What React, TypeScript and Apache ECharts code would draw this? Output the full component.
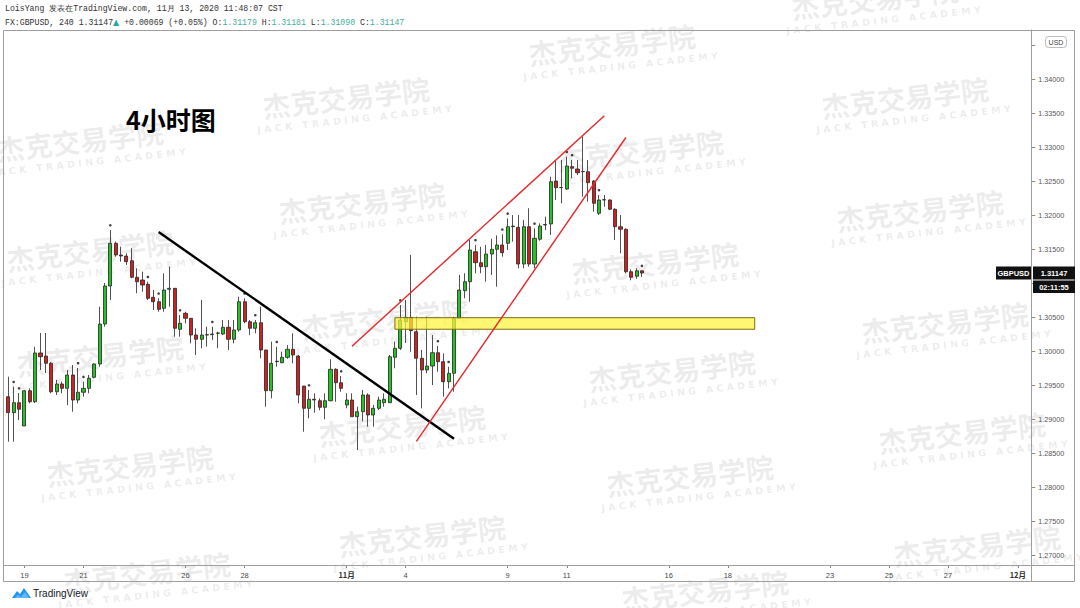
import React, { useEffect, useRef } from 'react';
import * as echarts from 'echarts';

// ---- data (4H GBPUSD candles, index 0 = Fri Oct 16 16:00 CST) ----
const opens = [
  1.29328, 1.29093, 1.2924, 1.28897, 1.29416, 1.29254, 1.29971, 1.29926, 1.29819, 1.29401,
  1.29515, 1.29451, 1.29647, 1.29279, 1.29393, 1.29451, 1.29613, 1.29809, 1.30397, 1.30956,
  1.31584, 1.31412, 1.31397, 1.31328, 1.31084, 1.31044, 1.30981, 1.3079, 1.30725, 1.30628,
  1.30907, 1.30922, 1.30319, 1.30554, 1.30481, 1.30235, 1.30172, 1.30235, 1.3024, 1.3026,
  1.3025, 1.30349, 1.30172, 1.30309, 1.30725, 1.30431, 1.30334, 1.30416, 1.30015, 1.29416,
  1.29843, 1.29828, 1.29907, 1.30025, 1.29926, 1.29485, 1.29157, 1.2929, 1.29269, 1.29172,
  1.29269, 1.29731, 1.29534, 1.29206, 1.29279, 1.29034, 1.29107, 1.29353, 1.29059, 1.29157,
  1.2924, 1.2924, 1.29907, 1.3004, 1.30431, 1.30495, 1.30284, 1.29893, 1.29721, 1.29779,
  1.29975, 1.29843, 1.29549, 1.29672, 1.30481, 1.30887, 1.31019, 1.3146, 1.31299, 1.3124,
  1.31426, 1.31495, 1.31559, 1.31584, 1.31828, 1.31819, 1.31279, 1.31828, 1.31279, 1.31643,
  1.31853, 1.31868, 1.325, 1.32402, 1.32382, 1.32711, 1.32676, 1.32637, 1.32637, 1.325,
  1.32025, 1.32221, 1.32221, 1.32084, 1.31828, 1.3179, 1.31166, 1.311, 1.31179,
];
const closes = [
  1.29093, 1.2924, 1.29143, 1.29416, 1.29254, 1.29971, 1.29916, 1.29819, 1.29401, 1.29515,
  1.29451, 1.29647, 1.29279, 1.29393, 1.29451, 1.29599, 1.29809, 1.30397, 1.30956, 1.31584,
  1.31412, 1.31397, 1.31313, 1.31084, 1.31019, 1.30971, 1.30775, 1.30725, 1.30613, 1.30897,
  1.30922, 1.30334, 1.30407, 1.30481, 1.30235, 1.30172, 1.30235, 1.3024, 1.3025, 1.30265,
  1.30349, 1.30172, 1.30309, 1.30725, 1.30431, 1.30334, 1.30416, 1.30015, 1.29416, 1.29819,
  1.2985, 1.29907, 1.30025, 1.29941, 1.29353, 1.29157, 1.2929, 1.2928, 1.29172, 1.29269,
  1.29731, 1.29534, 1.29451, 1.29279, 1.29034, 1.29107, 1.29353, 1.29059, 1.29157, 1.29279,
  1.2929, 1.29916, 1.3004, 1.30456, 1.30495, 1.30299, 1.29893, 1.29721, 1.29779, 1.29975,
  1.29843, 1.29549, 1.29672, 1.30481, 1.30897, 1.31019, 1.31485, 1.31299, 1.3124, 1.31426,
  1.31495, 1.31559, 1.31446, 1.31828, 1.31838, 1.31279, 1.31828, 1.31279, 1.31657, 1.31838,
  1.3186, 1.3249, 1.32402, 1.32405, 1.32721, 1.32687, 1.32622, 1.3264, 1.32475, 1.32172,
  1.32221, 1.32225, 1.32084, 1.31828, 1.3179, 1.31166, 1.31084, 1.31179, 1.31147,
];
const lows = [
  1.28666, 1.28666, 1.28985, 1.28897, 1.29231, 1.29235, 1.29721, 1.29676, 1.29378, 1.29353,
  1.29378, 1.29206, 1.29107, 1.29231, 1.29328, 1.29378, 1.29599, 1.29769, 1.30357, 1.3075,
  1.31387, 1.31313, 1.31265, 1.31069, 1.30849, 1.30872, 1.3075, 1.30603, 1.30578, 1.30578,
  1.30651, 1.3021, 1.3021, 1.30407, 1.30113, 1.29941, 1.3004, 1.30063, 1.30162, 1.3004,
  1.30235, 1.30015, 1.30113, 1.30284, 1.30407, 1.30235, 1.3026, 1.29893, 1.29181, 1.29304,
  1.29769, 1.29819, 1.29885, 1.29819, 1.29231, 1.28813, 1.2901, 1.29093, 1.29128, 1.28996,
  1.2926, 1.29254, 1.29401, 1.29157, 1.29034, 1.28544, 1.28966, 1.28887, 1.28887, 1.29132,
  1.29181, 1.29235, 1.29746, 1.30015, 1.30118, 1.2999, 1.29353, 1.29157, 1.29672, 1.295,
  1.29696, 1.29328, 1.29451, 1.29401, 1.30481, 1.30775, 1.30725, 1.31143, 1.31143, 1.31019,
  1.31118, 1.30946, 1.31387, 1.31485, 1.31607, 1.31216, 1.31216, 1.3124, 1.31216, 1.3162,
  1.31779, 1.31706, 1.32221, 1.32172, 1.32368, 1.3254, 1.32588, 1.32269, 1.32196, 1.32049,
  1.32, 1.32122, 1.32074, 1.31632, 1.31437, 1.31143, 1.3104, 1.3106, 1.3109,
];
const highs = [
  1.29622, 1.29475, 1.29382, 1.29426, 1.29451, 1.30063, 1.30265, 1.30265, 1.29838, 1.29574,
  1.29549, 1.29721, 1.29794, 1.2975, 1.29549, 1.29647, 1.29819, 1.30651, 1.31, 1.31779,
  1.31608, 1.31534, 1.31437, 1.3151, 1.31216, 1.31166, 1.31019, 1.30897, 1.30775, 1.31143,
  1.3124, 1.30926, 1.30529, 1.30578, 1.30481, 1.30334, 1.3075, 1.30357, 1.30357, 1.30284,
  1.30456, 1.30456, 1.30456, 1.30799, 1.30775, 1.30456, 1.30456, 1.30651, 1.30015, 1.30137,
  1.30063, 1.2999, 1.30088, 1.3026, 1.29941, 1.29485, 1.29426, 1.29378, 1.29304, 1.29378,
  1.29878, 1.29746, 1.29632, 1.29378, 1.29378, 1.29181, 1.29426, 1.29378, 1.29206, 1.29328,
  1.29378, 1.29941, 1.30137, 1.30676, 1.3075, 1.31412, 1.30505, 1.30015, 1.30505, 1.30235,
  1.30074, 1.29966, 1.29769, 1.30505, 1.31118, 1.31143, 1.31632, 1.31559, 1.31534, 1.31559,
  1.3165, 1.317, 1.31716, 1.31951, 1.32, 1.32, 1.31926, 1.32099, 1.31804, 1.31877,
  1.31975, 1.32564, 1.32809, 1.32809, 1.32857, 1.32809, 1.32809, 1.33151, 1.32809, 1.32515,
  1.32294, 1.32294, 1.3223, 1.32099, 1.32, 1.31804, 1.312, 1.31216, 1.31181,
];

const slotCount = 191; // visible bar slots incl. future space
const dayLabelIdx = [3, 14, 33, 44, 63, 74, 93, 104, 123, 134, 153, 164, 175, 188];
const dayLabelText = ['19', '21', '26', '28', '11月', '4', '9', '11', '16', '18', '23', '25', '27', '12月'];
const priceTicks = [1.27, 1.275, 1.28, 1.285, 1.29, 1.295, 1.3, 1.305, 1.31, 1.315, 1.32, 1.325, 1.33, 1.335, 1.34, 1.345];
// 1.31 and 1.345 labels are hidden under the last-price box and the USD badge
const priceLabels = [1.27, 1.275, 1.28, 1.285, 1.29, 1.295, 1.3, 1.305, 1.315, 1.32, 1.325, 1.33, 1.335, 1.34];
const fractalIdx = [1, 2, 13, 14, 19, 26, 28, 32, 38, 44, 46, 50, 56, 62, 73, 80, 82, 87, 92, 93, 98, 104, 105, 110, 118];

// drawn studies: [startIndex, startPrice, endIndex, endPrice]
const trendLine = [28, 1.3175, 83, 1.2871];
const channelUpper = [64, 1.3007, 111, 1.3346];
const channelLower = [76, 1.2867, 115, 1.3314];
const zoneIdx = [72, 139];
const zonePrice = [1.3032, 1.3049];

const headerLine1 = 'LoisYang 发表在TradingView.com, 11月 13, 2020 11:48:07 CST';
const symbolText = 'FX:GBPUSD, 240 1.31147';
const changeText = ' +0.00069 (+0.05%)';
const countdownText = '02:11:55';
const titleText = '4小时图';

const watermarkPos = [
  [612, 44], [346, 97], [80, 140], [875, -2], [905, 97], [640, 150], [362, 202], [920, 210],
  [90, 250], [655, 262], [385, 318], [945, 322], [100, 355], [672, 370], [402, 425], [962, 432],
  [130, 465], [690, 475], [422, 535], [977, 545], [147, 572], [705, 590],
];

const categories = Array.from({ length: slotCount }, (_, i) => 'b' + i);
const labelFor = (i: number) => {
  const k = dayLabelIdx.indexOf(i);
  return k >= 0 ? dayLabelText[k] : '';
};
const candles = opens.map((o, i) => [o, closes[i], lows[i], highs[i]]);

const LEFT = 5.6;
const SLOT = 5.37;
const TOP = 30;
const BOTTOM_Y = 565;

function seg(s: number[], color: string, width: number) {
  return [
    { coord: [s[0], s[1]], lineStyle: { color, width, type: 'solid' } },
    { coord: [s[2], s[3]] },
  ];
}

function buildGraphics(lastY: number) {
  const g: any[] = [];
  const mono = '"Liberation Mono", "DejaVu Sans Mono", monospace';
  // frame
  g.push({ type: 'rect', silent: true, z: 50, shape: { x: 3.5, y: 30.5, width: 1071, height: 551 }, style: { fill: 'none', stroke: '#9e9e9e', lineWidth: 1 } });
  g.push({ type: 'line', silent: true, z: 50, shape: { x1: 3.5, y1: 565.5, x2: 1074.5, y2: 565.5 }, style: { stroke: '#9e9e9e', lineWidth: 1 } });
  g.push({ type: 'line', silent: true, z: 50, shape: { x1: 1031.5, y1: 30.5, x2: 1031.5, y2: 581.5 }, style: { stroke: '#9e9e9e', lineWidth: 1 } });
  // header
  g.push({ type: 'text', silent: true, z: 60, style: { x: 5, y: 8, text: headerLine1, fill: '#333', font: `8.2px ${mono}`, verticalAlign: 'middle' } });
  const o = opens[opens.length - 1].toFixed(5);
  const h = highs[highs.length - 1].toFixed(5);
  const l = lows[lows.length - 1].toFixed(5);
  const c = closes[closes.length - 1].toFixed(5);
  g.push({
    type: 'text', silent: true, z: 60,
    style: {
      x: 5, y: 22, verticalAlign: 'middle',
      text: `{a|${symbolText}}{g|▲}{a|${changeText} O:}{v|${o}}{a| H:}{v|${h}}{a| L:}{v|${l}}{a| C:}{v|${c}}`,
      rich: {
        a: { fontFamily: mono, fontSize: 8.2, fill: '#333' },
        g: { fontFamily: 'DejaVu Sans', fontSize: 8, fill: '#26a69a' },
        v: { fontFamily: mono, fontSize: 8.2, fill: '#45ad9c' },
      },
    },
  });
  // title
  g.push({ type: 'text', silent: true, z: 60, style: { x: 126, y: 119, text: titleText, fill: '#000', fontFamily: '"Noto Sans CJK SC"', fontWeight: 'bold', fontSize: 25, verticalAlign: 'middle' } });
  // watermarks
  watermarkPos.forEach(([x, y]) => {
    g.push({
      type: 'group', x, y, rotation: 0.11, silent: true, z: 40,
      children: [
        { type: 'text', style: { x: 0, y: 0, text: '杰克交易学院', align: 'center', verticalAlign: 'middle', fontFamily: '"Noto Sans CJK SC"', fontWeight: 'bold', fontSize: 28, fill: 'rgba(60,60,60,0.1)' } },
        { type: 'text', style: { x: 6, y: 23, text: 'J A C K   T R A D I N G   A C A D E M Y', align: 'center', verticalAlign: 'middle', fontFamily: '"DejaVu Sans"', fontWeight: 'bold', fontSize: 9.5, fill: 'rgba(60,60,60,0.1)' } },
      ],
    });
  });
  // USD box (sits over the top price tick)
  g.push({ type: 'rect', silent: true, z: 60, shape: { x: 1045.5, y: 36.5, width: 21, height: 11, r: 3 }, style: { fill: '#fff', stroke: '#bbb', lineWidth: 1 } });
  g.push({ type: 'text', silent: true, z: 61, style: { x: 1056, y: 42.5, text: 'USD', align: 'center', verticalAlign: 'middle', fontFamily: '"Liberation Sans"', fontSize: 7, fill: '#444' } });
  // last price labels
  const y0 = Math.round(lastY);
  g.push({ type: 'rect', silent: true, z: 60, shape: { x: 996, y: y0 - 6.5, width: 35, height: 13 }, style: { fill: '#111' } });
  g.push({ type: 'text', silent: true, z: 61, style: { x: 1013.5, y: y0, text: 'GBPUSD', align: 'center', verticalAlign: 'middle', fontFamily: '"Liberation Sans"', fontWeight: 'bold', fontSize: 7.5, fill: '#fff' } });
  g.push({ type: 'rect', silent: true, z: 60, shape: { x: 1033, y: y0 - 6.5, width: 42, height: 13 }, style: { fill: '#111' } });
  g.push({ type: 'text', silent: true, z: 61, style: { x: 1054, y: y0, text: c, align: 'center', verticalAlign: 'middle', fontFamily: '"Liberation Sans"', fontWeight: 'bold', fontSize: 7.5, fill: '#fff' } });
  g.push({ type: 'rect', silent: true, z: 60, shape: { x: 1033, y: y0 + 7.5, width: 42, height: 12.5 }, style: { fill: '#111' } });
  g.push({ type: 'text', silent: true, z: 61, style: { x: 1054, y: y0 + 14, text: countdownText, align: 'center', verticalAlign: 'middle', fontFamily: '"Liberation Sans"', fontWeight: 'bold', fontSize: 7.5, fill: '#fff' } });
  // TradingView logo
  g.push({ type: 'polygon', silent: true, z: 60, shape: { points: [[12, 598], [17, 591], [20, 594], [24, 588], [31, 598]] }, style: { fill: '#2196f3' } });
  g.push({ type: 'polygon', silent: true, z: 61, shape: { points: [[15, 598], [18, 594.5], [21, 597], [25, 592], [29, 598]] }, style: { fill: '#64b5f6' } });
  g.push({ type: 'text', silent: true, z: 60, style: { x: 33, y: 593.5, text: 'TradingView', verticalAlign: 'middle', fontFamily: '"Liberation Sans"', fontSize: 10, fill: '#131722' } });
  return g;
}

export default function App() {
  const ref = useRef<HTMLDivElement>(null);
  useEffect(() => {
    document.body.style.margin = '0';
    const chart = echarts.init(ref.current!, null, { renderer: 'svg' });
    const plotWidth = SLOT * slotCount;
    const yMin = 1.3 - (BOTTOM_Y - 351) / 6800;
    const yMax = 1.3 + (351 - TOP) / 6800;
    chart.setOption({
      animation: false,
      backgroundColor: '#ffffff',
      grid: { left: LEFT, top: TOP, width: plotWidth, height: BOTTOM_Y - TOP, containLabel: false },
      xAxis: {
        type: 'category',
        data: categories,
        boundaryGap: true,
        axisLine: { show: true, lineStyle: { color: '#9e9e9e', width: 1 } },
        axisTick: { show: true, interval: (i: number) => labelFor(i) !== '', alignWithLabel: true, length: 3, lineStyle: { color: '#888' } },
        axisLabel: {
          interval: (i: number) => labelFor(i) !== '',
          formatter: (_v: string, i: number) => {
            const t = labelFor(i);
            return t.indexOf('月') >= 0 ? `{m|${t}}` : t;
          },
          fontSize: 7.5, color: '#4a4a4a', fontFamily: '"Liberation Sans"', margin: 6,
          rich: { m: { fontSize: 7.5, fontWeight: 'bold', color: '#333', fontFamily: '"Noto Sans CJK SC"' } },
        },
        splitLine: { show: false },
      },
      yAxis: {
        type: 'value',
        position: 'right',
        min: yMin,
        max: yMax,
        axisLine: { show: true, lineStyle: { color: '#9e9e9e', width: 1 } },
        axisTick: { show: true, customValues: priceTicks, length: 4, lineStyle: { color: '#888' } },
        axisLabel: { customValues: priceLabels, formatter: (v: number) => v.toFixed(5), fontSize: 7.2, color: '#555', fontFamily: '"Liberation Sans"', margin: 7 },
        splitLine: { show: false },
      },
      series: [
        {
          type: 'candlestick',
          data: candles,
          barWidth: 3.6,
          itemStyle: { color: '#22c322', color0: '#cf1f1f', borderColor: '#262626', borderColor0: '#262626', borderWidth: 0.8 },
          markArea: {
            silent: true,
            z: 5,
            itemStyle: { color: 'rgba(255,242,60,0.72)', borderColor: '#7d6f10', borderWidth: 1 },
            label: { show: false },
            data: [[{ coord: [zoneIdx[0], zonePrice[1]] }, { coord: [zoneIdx[1], zonePrice[0]] }]],
          },
          markLine: {
            silent: true,
            symbol: ['none', 'none'],
            label: { show: false },
            data: [
              seg(trendLine, '#000000', 2.4),
              seg(channelUpper, '#e8262a', 1.4),
              seg(channelLower, '#e8262a', 1.4),
            ],
          },
        },
        {
          type: 'scatter',
          data: fractalIdx.map((i) => [i, highs[i] + 0.0007]),
          symbol: 'circle',
          symbolSize: 2.6,
          itemStyle: { color: '#111' },
          silent: true,
        },
      ],
    });
    const lastY = chart.convertToPixel({ yAxisIndex: 0 }, closes[closes.length - 1]) as number;
    chart.setOption({ graphic: { elements: buildGraphics(lastY) } });
    return () => chart.dispose();
  }, []);
  return <div ref={ref} style={{ position: 'absolute', left: 0, top: 0, width: 1080, height: 608, background: '#fff' }} />;
}
